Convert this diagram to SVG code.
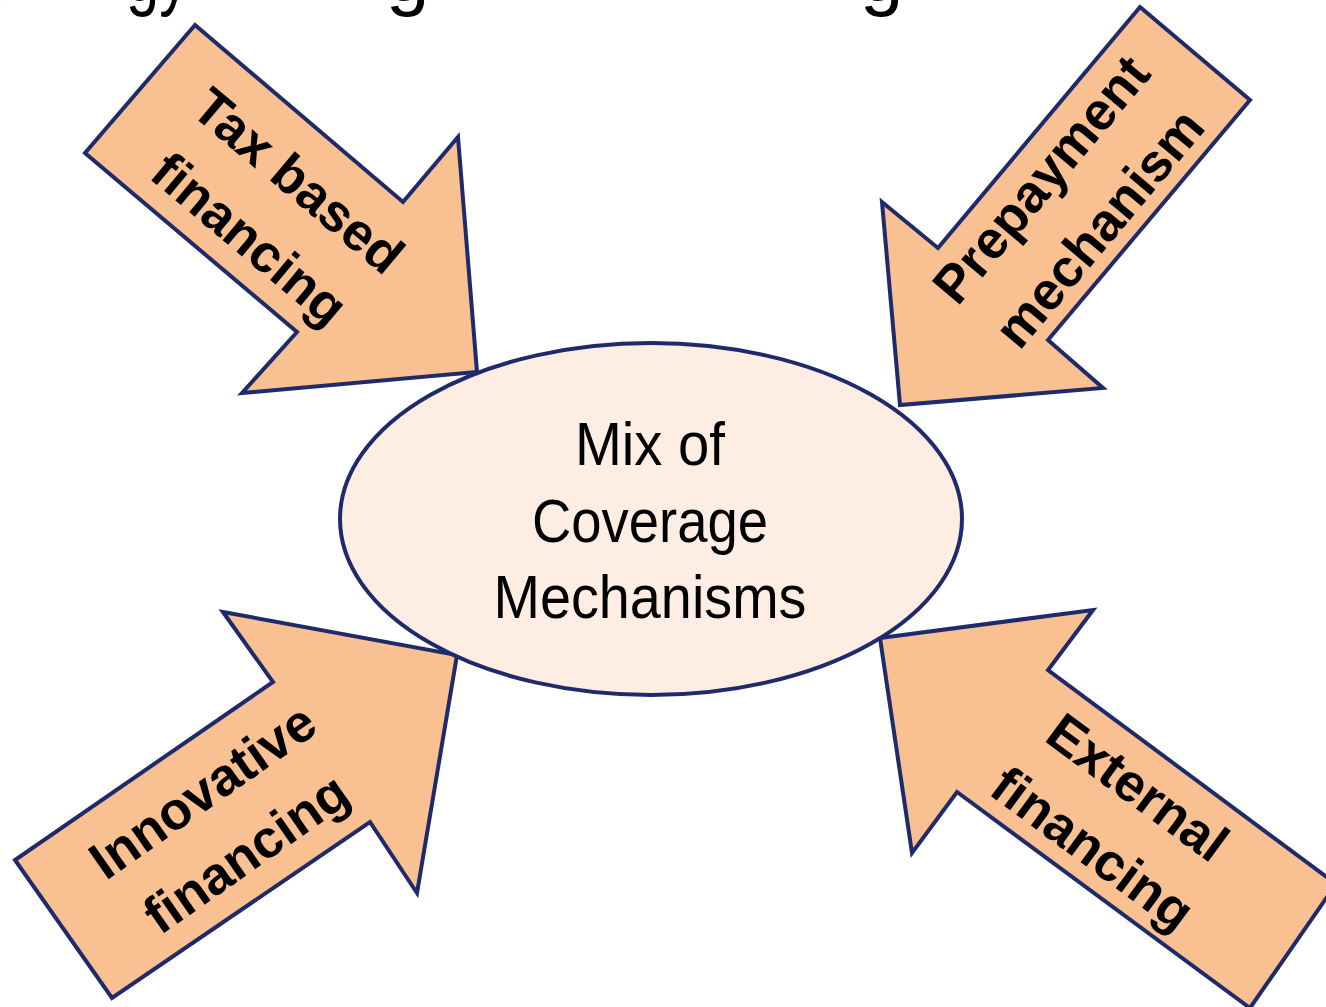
<svg xmlns="http://www.w3.org/2000/svg" width="1326" height="1007" viewBox="0 0 1326 1007">
  <style>
    .arrow { fill: #F9C191; stroke: #1F2A6B; stroke-width: 4; stroke-linejoin: miter; }
    .hub { fill: #FDEDE2; stroke: #1F2A6B; stroke-width: 4; }
    .lbl { font-family: "Liberation Sans", Arial, sans-serif; font-weight: bold; font-size: 53px; fill: #000; text-anchor: middle; }
    .hubtxt { font-family: "Liberation Sans Narrow", "Liberation Sans", Arial, sans-serif; font-size: 62px; fill: #000; text-anchor: middle; }
    .title { font-family: "Liberation Sans", Arial, sans-serif; font-size: 78px; fill: #000; }
  </style>
  <rect width="1326" height="1007" fill="#FFFFFF"/>

  <g id="title-fragment">
    <text class="title" x="-23" y="0.5">y</text>
    <text class="title" x="126" y="0.5" textLength="63" lengthAdjust="spacingAndGlyphs">gy</text>
    <text class="title" x="386" y="0.5">g</text>
    <text class="title" x="860" y="0.5">g</text>
  </g>

  <g id="connectors">
    <g id="arrow-tax">
      <polygon class="arrow" points="195,25 403,202 458,137 477,372 242,393 297,332 85,153"/>
      <g transform="translate(286.7,194.7) rotate(40)">
        <text class="lbl" x="0" y="0">Tax based</text>
        <text class="lbl" x="0" y="76">financing</text>
      </g>
    </g>
    <g id="arrow-prepayment">
      <polygon class="arrow" points="1140,7 1250,100 1048,340 1103,388 900,405 882,202 938,248"/>
      <g transform="translate(1055,191) rotate(-50)">
        <text class="lbl" x="0" y="0">Prepayment</text>
        <text class="lbl" x="0" y="76">mechanism</text>
      </g>
    </g>
    <g id="arrow-innovative">
      <polygon class="arrow" points="223,612 457,655 417,893 370,822 112,998 15,860 273,682"/>
      <g transform="translate(213,806) rotate(-35)">
        <text class="lbl" x="0" y="0">Innovative</text>
        <text class="lbl" x="0" y="76">financing</text>
      </g>
    </g>
    <g id="arrow-external">
      <polygon class="arrow" points="880,638 1093,610 1048,670 1336,884 1250,1008 957,792 912,853"/>
      <g transform="translate(1127,802) rotate(36.4)">
        <text class="lbl" x="0" y="0">External</text>
        <text class="lbl" x="0" y="76">financing</text>
      </g>
    </g>
  </g>

  <g id="hub">
    <ellipse class="hub" cx="651" cy="519" rx="311" ry="176"/>
    <text class="hubtxt" x="650" y="465" textLength="150" lengthAdjust="spacingAndGlyphs">Mix of</text>
    <text class="hubtxt" x="650" y="542" textLength="236" lengthAdjust="spacingAndGlyphs">Coverage</text>
    <text class="hubtxt" x="650" y="618" textLength="313" lengthAdjust="spacingAndGlyphs">Mechanisms</text>
  </g>
</svg>
